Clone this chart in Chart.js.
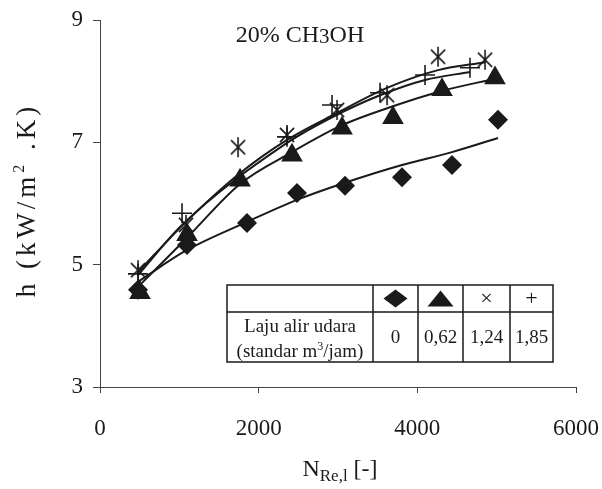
<!DOCTYPE html>
<html>
<head>
<meta charset="utf-8">
<script src="https://cdn.jsdelivr.net/npm/chart.js@4.4.0/dist/chart.umd.min.js"></script>
<style>
  html, body { margin: 0; padding: 0; background: #fff; }
</style>
</head>
<body>
<canvas id="chart" width="602" height="489"></canvas>
<script>
// Data: N_Re,l on x, h (kW/m2.K) on y, one set per air flow rate
const reDiamond = [479, 1097, 1853, 2483, 3088, 3807, 4437, 5017];
const hDiamond  = [4.59, 5.32, 5.68, 6.17, 6.29, 6.43, 6.63, 7.37];
const fitDiamond = [4.72, 5.24, 5.70, 6.06, 6.34, 6.63, 6.84, 7.07];

const reTriangle = [504, 1097, 1765, 2420, 3051, 3693, 4311, 4979];
const hTriangle  = [4.54, 5.49, 6.38, 6.79, 7.23, 7.40, 7.86, 8.05];
const fitTriangle = [4.67, 5.44, 6.32, 6.84, 7.28, 7.59, 7.84, 8.04];

const reStar = [479, 1084, 1740, 2357, 2988, 3618, 4261, 4853];
const hStar  = [4.91, 5.65, 6.92, 7.12, 7.53, 7.77, 8.40, 8.35];
const fitStar = [4.88, 5.70, 6.47, 7.04, 7.48, 7.89, 8.18, 8.31];

const rePlus = [479, 1034, 2357, 2925, 3530, 4097, 4664];
const hPlus  = [4.85, 5.84, 7.09, 7.61, 7.81, 8.10, 8.22];
const fitPlus = [4.83, 5.65, 6.99, 7.41, 7.77, 8.02, 8.15];

// legend table
const flowLabels = ['0', '0,62', '1,24', '1,85'];

const xTicks = [0, 2000, 4000, 6000];
const yTicks = [3, 5, 7, 9];

const ink = '#1a1a1a';
const serif = '"Liberation Serif", "DejaVu Serif", serif';

// asterisk marker like the one in the figure: an X with a vertical stroke
function makeAsterisk(size) {
    const c = document.createElement('canvas');
    c.width = size; c.height = size;
    const g = c.getContext('2d');
    const m = size / 2, r = size / 2 - 1;
    g.strokeStyle = ink;
    g.lineWidth = 1.6;
    g.beginPath();
    g.moveTo(m, m - r); g.lineTo(m, m + r);
    const d = r * Math.SQRT1_2;
    g.moveTo(m - d, m - d); g.lineTo(m + d, m + d);
    g.moveTo(m + d, m - d); g.lineTo(m - d, m + d);
    g.stroke();
    return c;
}

function pts(xs, ys) {
    return xs.map((x, i) => ({ x: x, y: ys[i] }));
}

function markerSet(xs, ys, style, radius, filled) {
    return {
        type: 'scatter',
        data: pts(xs, ys),
        pointStyle: style,
        pointRadius: radius,
        pointHoverRadius: radius,
        backgroundColor: filled ? ink : 'rgba(0,0,0,0)',
        borderColor: ink,
        pointBorderWidth: filled ? 0 : 1.6,
        showLine: false,
        order: 1
    };
}

function fitSet(xs, ys) {
    return {
        type: 'line',
        data: pts(xs, ys),
        borderColor: ink,
        borderWidth: 2,
        pointRadius: 0,
        cubicInterpolationMode: 'monotone',
        fill: false,
        order: 2
    };
}

// titles, axis labels and the legend table
const textPlugin = {
    id: 'texts',
    afterDraw(chart) {
        const ctx = chart.ctx;
        ctx.save();
        ctx.fillStyle = ink;
        ctx.textBaseline = 'alphabetic';

        // chart title "20% CH3OH"
        let parts = [['20% CH', 24, 0], ['3', 21, 1], ['OH', 24, 0]];
        drawParts(ctx, parts, 300, 42, 'center');

        // x axis title N_Re,l [-]
        parts = [['N', 24, 0], ['Re,l', 17, 5], [' [-]', 24, 0]];
        drawParts(ctx, parts, 340, 476, 'center');

        // y axis title, rotated and a little spread out like the scan
        ctx.save();
        ctx.translate(35, 200);
        ctx.rotate(-Math.PI / 2);
        ctx.letterSpacing = '4px';
        parts = [['h (kW/m', 27, 0], ['2', 16, -11], [' .K)', 27, 0]];
        drawParts(ctx, parts, 0, 0, 'center');
        ctx.letterSpacing = '0px';
        ctx.restore();

        // legend table
        const left = 227, top = 285, rowH = 27, bottom = 362;
        const cols = [227, 373, 418, 463, 510, 553];
        ctx.fillStyle = '#fff';
        ctx.fillRect(left, top, cols[5] - left, bottom - top);
        ctx.strokeStyle = ink;
        ctx.lineWidth = 1.5;
        ctx.strokeRect(left, top, cols[5] - left, bottom - top);
        ctx.beginPath();
        ctx.moveTo(left, top + rowH);
        ctx.lineTo(cols[5], top + rowH);
        cols.slice(1, 5).forEach(c => { ctx.moveTo(c, top); ctx.lineTo(c, bottom); });
        ctx.stroke();

        const mid = i => (cols[i] + cols[i + 1]) / 2;
        const r1 = top + rowH / 2;
        ctx.fillStyle = ink;
        // diamond
        ctx.beginPath();
        ctx.moveTo(mid(1), r1 - 9); ctx.lineTo(mid(1) + 12, r1);
        ctx.lineTo(mid(1), r1 + 9); ctx.lineTo(mid(1) - 12, r1);
        ctx.closePath(); ctx.fill();
        // triangle
        ctx.beginPath();
        ctx.moveTo(mid(2), r1 - 8); ctx.lineTo(mid(2) + 13, r1 + 8);
        ctx.lineTo(mid(2) - 13, r1 + 8);
        ctx.closePath(); ctx.fill();

        ctx.font = '22px ' + serif;
        ctx.textAlign = 'center';
        ctx.textBaseline = 'middle';
        ctx.fillText('\u00d7', mid(3), r1 + 1);
        ctx.fillText('+', mid(4), r1 + 1);

        ctx.font = '19px ' + serif;
        const r2 = (top + rowH + bottom) / 2;
        flowLabels.forEach((t, i) => ctx.fillText(t, mid(i + 1), r2 + 1));
        ctx.fillText('Laju alir udara', mid(0), r2 - 10);
        ctx.textBaseline = 'alphabetic';
        parts = [['(standar m', 19, 0], ['3', 12, -7], ['/jam)', 19, 0]];
        drawParts(ctx, parts, mid(0), r2 + 20, 'center');

        ctx.restore();
    }
};

function drawParts(ctx, parts, x, y, align) {
    let total = 0;
    parts.forEach(p => { ctx.font = p[1] + 'px ' + serif; total += ctx.measureText(p[0]).width; });
    let cx = align === 'center' ? x - total / 2 : x;
    ctx.textAlign = 'left';
    parts.forEach(p => {
        ctx.font = p[1] + 'px ' + serif;
        ctx.fillText(p[0], cx, y + p[2]);
        cx += ctx.measureText(p[0]).width;
    });
}

const ctx = document.getElementById('chart').getContext('2d');
const chart = new Chart(ctx, {
    data: {
        datasets: [
            fitSet(reDiamond, fitDiamond),
            fitSet(reTriangle, fitTriangle),
            fitSet(reStar, fitStar),
            fitSet(rePlus, fitPlus),
            markerSet(reDiamond, hDiamond, 'rectRot', 10, true),
            markerSet(reTriangle, hTriangle, 'triangle', 12.5, true),
            markerSet(reStar, hStar, makeAsterisk(22), 11, false),
            markerSet(rePlus, hPlus, 'cross', 10, false)
        ]
    },
    options: {
        responsive: false,
        animation: false,
        layout: { padding: { left: 0, right: 26, top: 20, bottom: 0 } },
        plugins: {
            legend: { display: false },
            tooltip: { enabled: false },
            title: { display: false }
        },
        scales: {
            x: {
                type: 'linear',
                min: 0,
                max: 6000,
                afterFit: s => { s.height = 102; s.paddingLeft = 0; s.paddingRight = 0; },
                afterBuildTicks: s => { s.ticks = xTicks.map(v => ({ value: v })); },
                grid: { drawOnChartArea: false, drawTicks: true, tickLength: 6, color: '#444' },
                border: { color: '#444', width: 1 },
                ticks: {
                    padding: 22,
                    color: ink,
                    font: { family: serif, size: 23 },
                    maxRotation: 0,
                    callback: v => String(v)
                }
            },
            y: {
                type: 'linear',
                min: 3,
                max: 9,
                afterFit: s => { s.width = 100; s.paddingTop = 0; s.paddingBottom = 0; },
                afterBuildTicks: s => { s.ticks = yTicks.map(v => ({ value: v })); },
                grid: { drawOnChartArea: false, drawTicks: true, tickLength: 7, color: '#444' },
                border: { color: '#444', width: 1 },
                ticks: {
                    padding: 10,
                    color: ink,
                    font: { family: serif, size: 23 },
                    callback: v => String(v)
                }
            }
        }
    },
    plugins: [textPlugin]
});
</script>
</body>
</html>
